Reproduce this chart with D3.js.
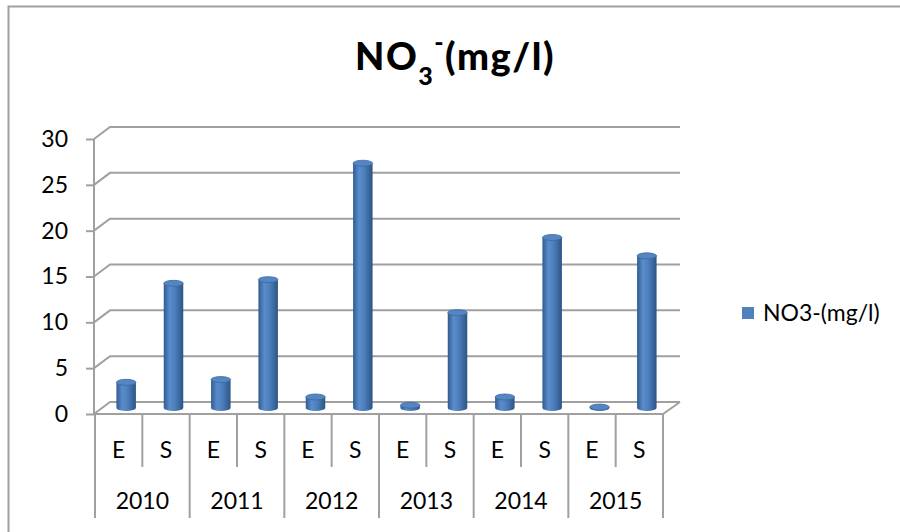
<!DOCTYPE html>
<html>
<head>
<meta charset="utf-8">
<script src="https://cdn.jsdelivr.net/npm/d3@7"></script>
<style>
  body { margin: 0; background: #fff; }
  svg { display: block; font-family: Lato, "Open Sans", sans-serif; }
</style>
</head>
<body>
<div id="chart"></div>
<script>
// data
var years = ["2010", "2011", "2012", "2013", "2014", "2015"];
var points = ["E", "S"];
var no3 = [2.8, 13.6, 3.1, 14.0, 1.2, 26.7, 0.3, 10.4, 1.2, 18.6, 0.1, 16.6];
var yTicks = [0, 5, 10, 15, 20, 25, 30];
var seriesName = "NO3-(mg/l)";

var width = 900, height = 532;
// depth of the 3d box (front -> back)
var dx = 15, dy = -12;
var gridColor = "#a0a0a0";
var labelSize = "23px";

var svg = d3.select("#chart")
  .append("svg")
    .attr("width", width)
    .attr("height", height);

// gradient for the cylinders
var defs = svg.append("defs");
var grad = defs.append("linearGradient").attr("id", "cyl")
  .attr("x1", "0%").attr("x2", "100%").attr("y1", "0%").attr("y2", "0%");
grad.append("stop").attr("offset", "0%").attr("stop-color", "#2f5b92");
grad.append("stop").attr("offset", "30%").attr("stop-color", "#5a8ccb");
grad.append("stop").attr("offset", "55%").attr("stop-color", "#4f80be");
grad.append("stop").attr("offset", "100%").attr("stop-color", "#2c5586");

// chart border
svg.append("rect")
  .attr("x", 8.5).attr("y", 6.5)
  .attr("width", 1000).attr("height", 1000)
  .attr("fill", "none")
  .attr("stroke", gridColor)
  .attr("stroke-width", 2);

// flat list of categories (year + E/S)
var cats = [];
years.forEach(function(yr) {
  points.forEach(function(p) { cats.push(yr + "|" + p); });
});

// scales
var x = d3.scaleBand().domain(cats).range([95, 663]).padding(0);
var xYear = d3.scaleBand().domain(years).range([95, 663]).padding(0);
var y = d3.scaleLinear().domain([0, 30]).range([414, 139]);

// back wall gridlines + diagonals to the front axis
var grid = svg.append("g");
yTicks.forEach(function(t) {
  grid.append("path")
    .attr("d", "M" + 94 + "," + y(t) + "L" + (94 + dx + 1) + "," + (y(t) + dy) +
               "L" + (663 + dx + 2) + "," + (y(t) + dy))
    .attr("fill", "none")
    .attr("stroke", gridColor)
    .attr("stroke-width", 2);
});
// floor front edge and right edge
grid.append("path")
  .attr("d", "M94," + y(0) + "L663," + y(0) + "L" + (663 + dx + 2) + "," + (y(0) + dy))
  .attr("fill", "none")
  .attr("stroke", gridColor)
  .attr("stroke-width", 2);

// y axis
var yAxis = svg.append("g")
  .attr("transform", "translate(94,0)")
  .call(d3.axisLeft(y).tickValues(yTicks).tickSize(8).tickPadding(18));
yAxis.selectAll("path, line").attr("stroke", gridColor).attr("stroke-width", 2);
yAxis.select(".domain").attr("d", "M0," + y(30) + "V" + y(0));
yAxis.selectAll("text")
  .style("font-family", "Lato, sans-serif")
  .style("font-size", labelSize)
  .attr("fill", "#000");

// category dividers below the floor
var xg = svg.append("g");
cats.forEach(function(c, i) {
  var len = (i % 2 === 0) ? 104 : 53;
  xg.append("line")
    .attr("x1", x(c)).attr("x2", x(c))
    .attr("y1", y(0)).attr("y2", y(0) + len)
    .attr("stroke", gridColor).attr("stroke-width", 2);
});
xg.append("line")
  .attr("x1", 663).attr("x2", 663)
  .attr("y1", y(0)).attr("y2", y(0) + 104)
  .attr("stroke", gridColor).attr("stroke-width", 2);

// E / S labels
var xAxis = svg.append("g")
  .attr("transform", "translate(0,458)")
  .call(d3.axisBottom(x).tickSize(0).tickPadding(0).tickFormat(function(d) { return d.split("|")[1]; }));
xAxis.select(".domain").remove();
xAxis.selectAll("text")
  .attr("dy", 0)
  .style("font-family", "Lato, sans-serif")
  .style("font-size", labelSize)
  .attr("fill", "#000");

// year labels
var yearAxis = svg.append("g")
  .attr("transform", "translate(0,509)")
  .call(d3.axisBottom(xYear).tickSize(0).tickPadding(0));
yearAxis.select(".domain").remove();
yearAxis.selectAll("text")
  .attr("dy", 0)
  .style("font-family", "Lato, sans-serif")
  .style("font-size", labelSize)
  .attr("fill", "#000");

// cylinders, placed at mid depth
var bw = 19.5, ry = 3;
var bars = svg.append("g")
  .selectAll("g")
  .data(no3)
  .enter().append("g")
    .attr("transform", function(d, i) {
      return "translate(" + (x(cats[i]) + x.bandwidth() / 2 + dx / 2) + "," + (dy / 2) + ")";
    });

bars.append("path")
  .attr("d", function(d) {
    var top = y(d), bot = y(0), r = bw / 2;
    return "M" + (-r) + "," + top + "L" + (-r) + "," + bot +
           "A" + r + "," + ry + " 0 0 0 " + r + "," + bot +
           "L" + r + "," + top + "Z";
  })
  .attr("fill", "url(#cyl)");

bars.append("ellipse")
  .attr("cx", 0)
  .attr("cy", function(d) { return y(d); })
  .attr("rx", bw / 2)
  .attr("ry", ry)
  .attr("fill", "#5486c4")
  .attr("stroke", "#3b679e")
  .attr("stroke-width", 0.8);

// title
var title = svg.append("text")
  .attr("x", 355)
  .attr("y", 70)
  .style("font-family", "Lato, sans-serif")
  .style("font-weight", "900")
  .style("font-size", "38px")
  .style("letter-spacing", "1.5px")
  .attr("fill", "#000");
title.append("tspan").text("NO");
title.append("tspan").attr("dy", 15).style("font-size", "25px").text("3");
title.append("tspan").attr("dy", -34).style("font-size", "25px").text("-");
title.append("tspan").attr("dy", 19).text("(mg/l)");

// legend
var legend = svg.append("g").attr("transform", "translate(742,307)");
legend.append("rect")
  .attr("width", 12).attr("height", 12)
  .attr("fill", "#4f81bd");
legend.append("text")
  .attr("x", 21).attr("y", 14)
  .style("font-family", "Lato, sans-serif")
  .style("font-size", labelSize)
  .attr("fill", "#000")
  .text(seriesName);
</script>
</body>
</html>
